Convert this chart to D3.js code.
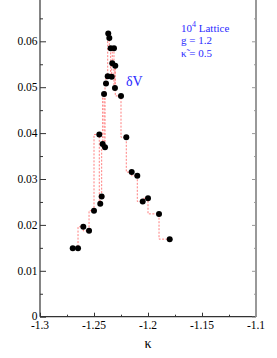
<!DOCTYPE html>
<html lang="en">
<head>
    <title>dV vs kappa</title>
    <script src="https://d3js.org/d3.v7.min.js"></script>
    <style>
        body { margin: 0; background: white; }
        * { font-family: "Liberation Serif", "DejaVu Serif", serif; }
        .tick-label { font-size: 11.5px; fill: #000; }
    </style>
</head>
<body>
<svg class="plot"></svg>
<script>
// data
const kappa = [-1.2697, -1.2648, -1.2599, -1.2546, -1.2500, -1.2451, -1.2442, -1.2429,
               -1.2420, -1.2407, -1.2398, -1.2389, -1.2373, -1.2368, -1.2358, -1.2346,
               -1.2336, -1.2331, -1.2315, -1.2306, -1.2303, -1.2250, -1.2201, -1.2151,
               -1.2099, -1.2049, -1.2000, -1.1898, -1.1799];
const dV = [0.0149, 0.0149, 0.0196, 0.0187, 0.0231, 0.0397, 0.0246, 0.0262,
            0.0376, 0.0485, 0.0369, 0.0508, 0.0524, 0.0617, 0.0607, 0.0585,
            0.0523, 0.0552, 0.0585, 0.0498, 0.0547, 0.0481, 0.0391, 0.0315,
            0.0307, 0.0251, 0.0258, 0.0224, 0.0169];
const xTicks = [-1.3, -1.25, -1.2, -1.15, -1.1];
const xMinor = [-1.275, -1.225, -1.175, -1.125];
const yTicks = [0, 0.01, 0.02, 0.03, 0.04, 0.05, 0.06];
const yMinor = [0.005, 0.015, 0.025, 0.035, 0.045, 0.055, 0.065];
const legendLines = ["Lattice", "g = 1.2", "\u03BA\u0303 = 0.5"];

const W = 277, H = 358;
const svg = d3.select("svg.plot").attr("width", W).attr("height", H);

const x = d3.scaleLinear().domain([-1.3, -1.1]).range([40, 256]);
const y = d3.scaleLinear().domain([0, 0.07]).range([316.7, -4.6]);

const pts = kappa.map((k, i) => ({k: k, v: dV[i]}));

// step line
const step = d3.line()
    .x(d => x(d.k))
    .y(d => y(d.v))
    .curve(d3.curveStepBefore);
svg.append("path")
    .datum(pts)
    .attr("d", step)
    .attr("fill", "none")
    .attr("stroke", "#ff7f7f")
    .attr("stroke-width", 1)
    .attr("stroke-dasharray", "2,1.5");

// points
svg.append("g")
    .selectAll("circle")
    .data(pts)
    .enter()
    .append("circle")
    .attr("cx", d => x(d.k))
    .attr("cy", d => y(d.v))
    .attr("r", 3)
    .attr("fill", "black");

// axes
let left = svg.append("g").attr("transform", "translate(40,0)");
left.call(d3.axisRight(y).tickValues(yTicks).tickSize(6).tickFormat(""));
left.select(".domain").remove();
left.append("g").call(d3.axisRight(y).tickValues(yMinor).tickSize(3).tickFormat(""))
    .select(".domain").remove();
left.append("line").attr("x1", 0).attr("x2", 0).attr("y1", -5).attr("y2", y(0))
    .attr("stroke", "black").attr("stroke-width", 1.2);
left.selectAll("line").attr("stroke", "#333");

svg.append("g")
    .selectAll("text")
    .data(yTicks)
    .enter()
    .append("text")
    .attr("class", "tick-label")
    .attr("x", 37.5)
    .attr("y", d => d === 0 ? y(d) + 2.8 : y(d) + 4)
    .attr("text-anchor", "end")
    .text(d => d === 0 ? "0" : d3.format(".2f")(d));

let bottom = svg.append("g").attr("transform", "translate(0," + y(0) + ")");
bottom.call(d3.axisTop(x).tickValues(xTicks).tickSize(4).tickFormat(""));
bottom.select(".domain").remove();
bottom.append("g").call(d3.axisTop(x).tickValues(xMinor).tickSize(2).tickFormat(""))
    .select(".domain").remove();
bottom.append("line").attr("x1", x(-1.3)).attr("x2", x(-1.1))
    .attr("stroke", "#333").attr("stroke-width", 1.2);
bottom.selectAll("line").attr("stroke", "#333");

svg.append("g")
    .selectAll("text")
    .data(xTicks)
    .enter()
    .append("text")
    .attr("class", "tick-label")
    .attr("x", d => x(d))
    .attr("y", 329)
    .attr("text-anchor", "middle")
    .text(d => String(d));

// right axis, gray
let right = svg.append("g").attr("transform", "translate(256,0)");
right.call(d3.axisLeft(y).tickValues(yTicks).tickSize(4).tickFormat(""));
right.select(".domain").remove();
right.append("g").call(d3.axisLeft(y).tickValues(yMinor).tickSize(2).tickFormat(""))
    .select(".domain").remove();
right.append("line").attr("x1", 0).attr("x2", 0).attr("y1", -5).attr("y2", y(0))
    .attr("stroke-width", 2);
right.selectAll("line").attr("stroke", "#999");

// x label
svg.append("text")
    .attr("x", 148)
    .attr("y", 348)
    .attr("text-anchor", "middle")
    .style("font-size", "14px")
    .text("\u03BA");

// series label
svg.append("text")
    .attr("x", 126)
    .attr("y", 86)
    .style("font-size", "14px")
    .attr("fill", "#2b2bff")
    .text("\u03B4V");

// legend text
let leg = svg.append("g").attr("fill", "#2b2bff").style("font-size", "11px");
let t0 = leg.append("text").attr("x", 181).attr("y", 32);
t0.append("tspan").text("10");
t0.append("tspan").attr("dy", -5).style("font-size", "8px").text("4");
t0.append("tspan").attr("dy", 5).text(" " + legendLines[0]);
leg.append("text").attr("x", 181).attr("y", 44).text(legendLines[1]);
leg.append("text").attr("x", 181).attr("y", 56.5).text(legendLines[2]);
</script>
</body>
</html>
